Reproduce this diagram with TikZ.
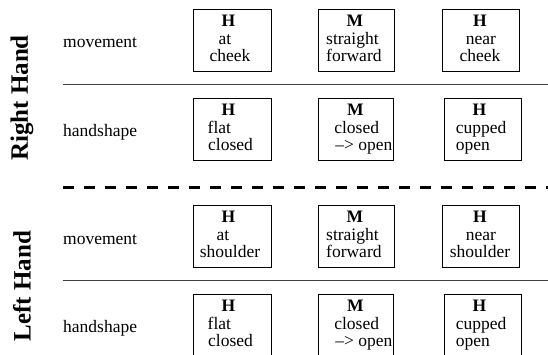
\documentclass[tikz,border=0pt]{standalone}
\usepackage{fontspec}
\setmainfont{Liberation Serif}
\begin{document}
\begin{tikzpicture}[x=1pt,y=-1pt,
  cell/.style={draw, line width=0.8pt, rectangle, inner sep=0pt, minimum height=62pt, anchor=north west},
  ln/.style={inner sep=0pt, font=\fontsize{17.5}{17.5}\selectfont},
  hd/.style={ln, font=\fontsize{17.5}{17.5}\selectfont\bfseries},
  title/.style={inner sep=0pt, rotate=90, font=\fontsize{25}{25}\selectfont\bfseries},
  sep/.style={line width=0.9pt, black!75},
  dsep/.style={line width=3pt, dash pattern=on 11pt off 10pt}]
\useasboundingbox (0,0) rectangle (548,354);
\clip (0,0) rectangle (548,354);

% titles
\node[title] (rh) at (22,98) {Right Hand};
\node[title] (lh) at (22,286) {Left Hand};

% row labels
\node[ln, anchor=base west] (rmv) at (63,47) {movement};
\node[ln, anchor=base west] (rhs) at (63,136) {handshape};
\node[ln, anchor=base west] (lmv) at (63,244) {movement};
\node[ln, anchor=base west] (lhs) at (63,332) {handshape};

% separators
\coordinate (s1a) at (63,84);  \coordinate (s1b) at (548,84);
\coordinate (s2a) at (63,187); \coordinate (s2b) at (548,187);
\coordinate (s3a) at (63,280); \coordinate (s3b) at (548,280);
\draw[sep] (s1a) -- (s1b);
\draw[dsep] (s2a) -- (s2b);
\draw[sep] (s3a) -- (s3b);

% ---------- Right hand, movement (top 9)
\node[cell, minimum width=78pt] (b11) at (193,9) {};
\node[hd, anchor=base] (b11h) at (228.5,26.5) {H};
\node[ln, anchor=base] (b11a) at (225,44) {at};
\node[ln, anchor=base] (b11b) at (230,61.5) {cheek};

\node[cell, minimum width=76pt] (b12) at (318,9) {};
\node[hd, anchor=base] (b12h) at (355,26.5) {M};
\node[ln, anchor=base west] (b12a) at (326,44) {straight};
\node[ln, anchor=base west] (b12b) at (326,61.5) {forward};

\node[cell, minimum width=77pt] (b13) at (442,9) {};
\node[hd, anchor=base] (b13h) at (480,26.5) {H};
\node[ln, anchor=base] (b13a) at (481,44) {near};
\node[ln, anchor=base] (b13b) at (480,61.5) {cheek};

% ---------- Right hand, handshape (top 98)
\node[cell, minimum width=78pt] (b21) at (193,98) {};
\node[hd, anchor=base] (b21h) at (228.5,115.5) {H};
\node[ln, anchor=base west] (b21a) at (207.5,133) {flat};
\node[ln, anchor=base west] (b21b) at (208,150.5) {closed};

\node[cell, minimum width=75pt] (b22) at (318,98) {};
\node[hd, anchor=base] (b22h) at (355.3,115.5) {M};
\node[ln, anchor=base] (b22a) at (356.7,133) {closed};
\node[ln, anchor=base east] (b22b) at (392.5,150.5) {--{}> open};

\node[cell, minimum width=77pt] (b23) at (444,98) {};
\node[hd, anchor=base] (b23h) at (479.3,115.5) {H};
\node[ln, anchor=base west] (b23a) at (455.7,133) {cupped};
\node[ln, anchor=base west] (b23b) at (455.7,150.5) {open};

% ---------- Left hand, movement (top 205)
\node[cell, minimum width=78pt] (b31) at (193,205) {};
\node[hd, anchor=base] (b31h) at (228.5,222.5) {H};
\node[ln, anchor=base] (b31a) at (223,240) {at};
\node[ln, anchor=base] (b31b) at (230,257.5) {shoulder};

\node[cell, minimum width=76pt] (b32) at (318,205) {};
\node[hd, anchor=base] (b32h) at (355,222.5) {M};
\node[ln, anchor=base west] (b32a) at (326,240) {straight};
\node[ln, anchor=base west] (b32b) at (326,257.5) {forward};

\node[cell, minimum width=77pt] (b33) at (442,205) {};
\node[hd, anchor=base] (b33h) at (480,222.5) {H};
\node[ln, anchor=base] (b33a) at (481,240) {near};
\node[ln, anchor=base] (b33b) at (480,257.5) {shoulder};

% ---------- Left hand, handshape (top 294)
\node[cell, minimum width=78pt] (b41) at (193,294) {};
\node[hd, anchor=base] (b41h) at (228.5,311.5) {H};
\node[ln, anchor=base west] (b41a) at (207.5,329) {flat};
\node[ln, anchor=base west] (b41b) at (208,346.5) {closed};

\node[cell, minimum width=75pt] (b42) at (318,294) {};
\node[hd, anchor=base] (b42h) at (355.3,311.5) {M};
\node[ln, anchor=base] (b42a) at (356.7,329) {closed};
\node[ln, anchor=base east] (b42b) at (392.5,346.5) {--{}> open};

\node[cell, minimum width=77pt] (b43) at (444,294) {};
\node[hd, anchor=base] (b43h) at (479.3,311.5) {H};
\node[ln, anchor=base west] (b43a) at (455.7,329) {cupped};
\node[ln, anchor=base west] (b43b) at (455.7,346.5) {open};
\end{tikzpicture}
\end{document}
